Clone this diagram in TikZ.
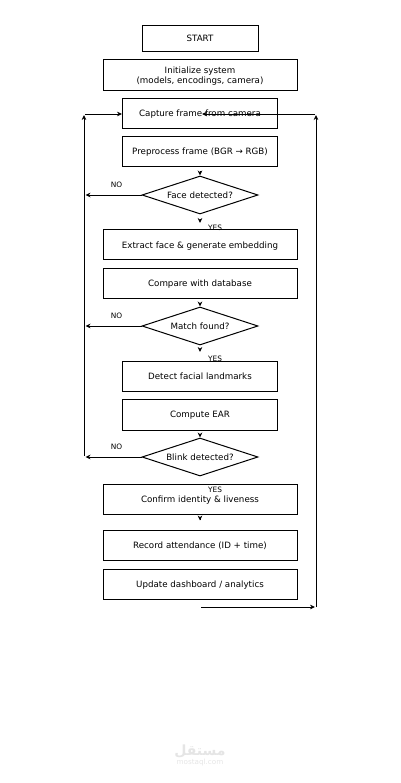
\documentclass[tikz,border=0pt]{standalone}
\usepackage{fontspec}
\setmainfont{DejaVu Sans}
\newfontfamily\arabicfont[Script=Arabic]{DejaVu Sans}
\TeXXeTstate=1
\usetikzlibrary{shapes.geometric,arrows.meta}
\tikzset{
  flowbox/.style={draw,line width=1pt,inner sep=0pt},
  flowline/.style={flowbox,text height=6pt,text depth=0pt},
  flowdec/.style={diamond,draw,line width=1pt,inner sep=0pt,minimum width=116pt,minimum height=38pt,aspect=3.05},
  flowarr/.style={-{Stealth[length=5pt,width=4.6pt]},line width=0.9pt},
  flowlab/.style={font=\fontsize{7.4}{9}\selectfont,inner sep=0pt},
}
\begin{document}
\begin{tikzpicture}[x=1pt,y=-1pt,every node/.style={font=\fontsize{8.7}{10}\selectfont}]
  \useasboundingbox (0,0) rectangle (400,783);
  % boxes
  \node[flowbox,align=center,minimum width=194pt,minimum height=31pt] (init) at (200,75.5)
    {\rule{0pt}{7.8pt}Initialize system\\(models, encodings, camera)};
  \foreach \nm/\yc/\w/\h/\txt in {
    start/39/116/26/{START},
    capture/114/155/30/{Capture frame from camera},
    prep/152/155/30/{Preprocess frame (BGR → RGB)},
    extract/245/194/30/{Extract face \& generate embedding},
    compare/283/194/30/{Compare with database},
    landmarks/376/155/30/{Detect facial landmarks},
    ear/414.5/155/31/{Compute EAR},
    confirm/499/194/30/{Confirm identity \& liveness},
    record/545/194/30/{Record attendance (ID + time)},
    update/584/194/30/{Update dashboard / analytics}} {
    \node[flowline,minimum width=\w pt,minimum height=\h pt] (\nm) at (200,\yc) {\txt};
  }
  % decisions, each with its NO arrow and labels
  \foreach \nm/\yc/\txt in {face/195/{Face detected?}, match/326/{Match found?}, blink/457/{Blink detected?}} {
    \node[flowdec] (\nm) at (200,\yc) {\txt};
    \coordinate (\nm no) at (85.5,\yc);
    \draw[flowarr] (\nm.west) -- (\nm no);
    \node[flowlab] (\nm nolab) at (116.5,\yc-10) {NO};
    \node[flowlab] (\nm yeslab) at (215,\yc+32.5) {YES};
  }
  % short arrows between the steps
  \foreach \a/\b/\s/\e in {prep/face/4/0, face/extract/5/6.5, compare/match/4/0, match/landmarks/4/8.5,
    ear/blink/4/0, confirm/record/5/9} {
    \draw[flowarr,shorten <=\s pt,shorten >=\e pt] (\a) -- (\b);
  }
  % return lines
  \coordinate (leftlow) at (84,456);
  \coordinate (lefttop) at (84,115);
  \coordinate (capin) at (85,114);
  \coordinate (backin) at (202,114);
  \coordinate (backout) at (315,114);
  \coordinate (rightlow) at (316,607);
  \coordinate (righttop) at (316,115);
  \coordinate (updout) at (201,607);
  \coordinate (updend) at (315,607);
  \draw[flowarr] (leftlow) -- (lefttop);
  \draw[flowarr] (capin) -- (capture.west);
  \draw[flowarr] (backout) -- (backin);
  \draw[flowarr] (rightlow) -- (righttop);
  \draw[flowarr] (updout) -- (updend);
  % watermark
  \node[text=black!10,font=\fontsize{14}{14}\selectfont\arabicfont\bfseries] (markar) at (200,751.5) {\beginR مستقل\endR};
  \node[text=black!10,font=\fontsize{7.2}{7.2}\selectfont] (markla) at (200,763) {mostaql.com};
\end{tikzpicture}
\end{document}
